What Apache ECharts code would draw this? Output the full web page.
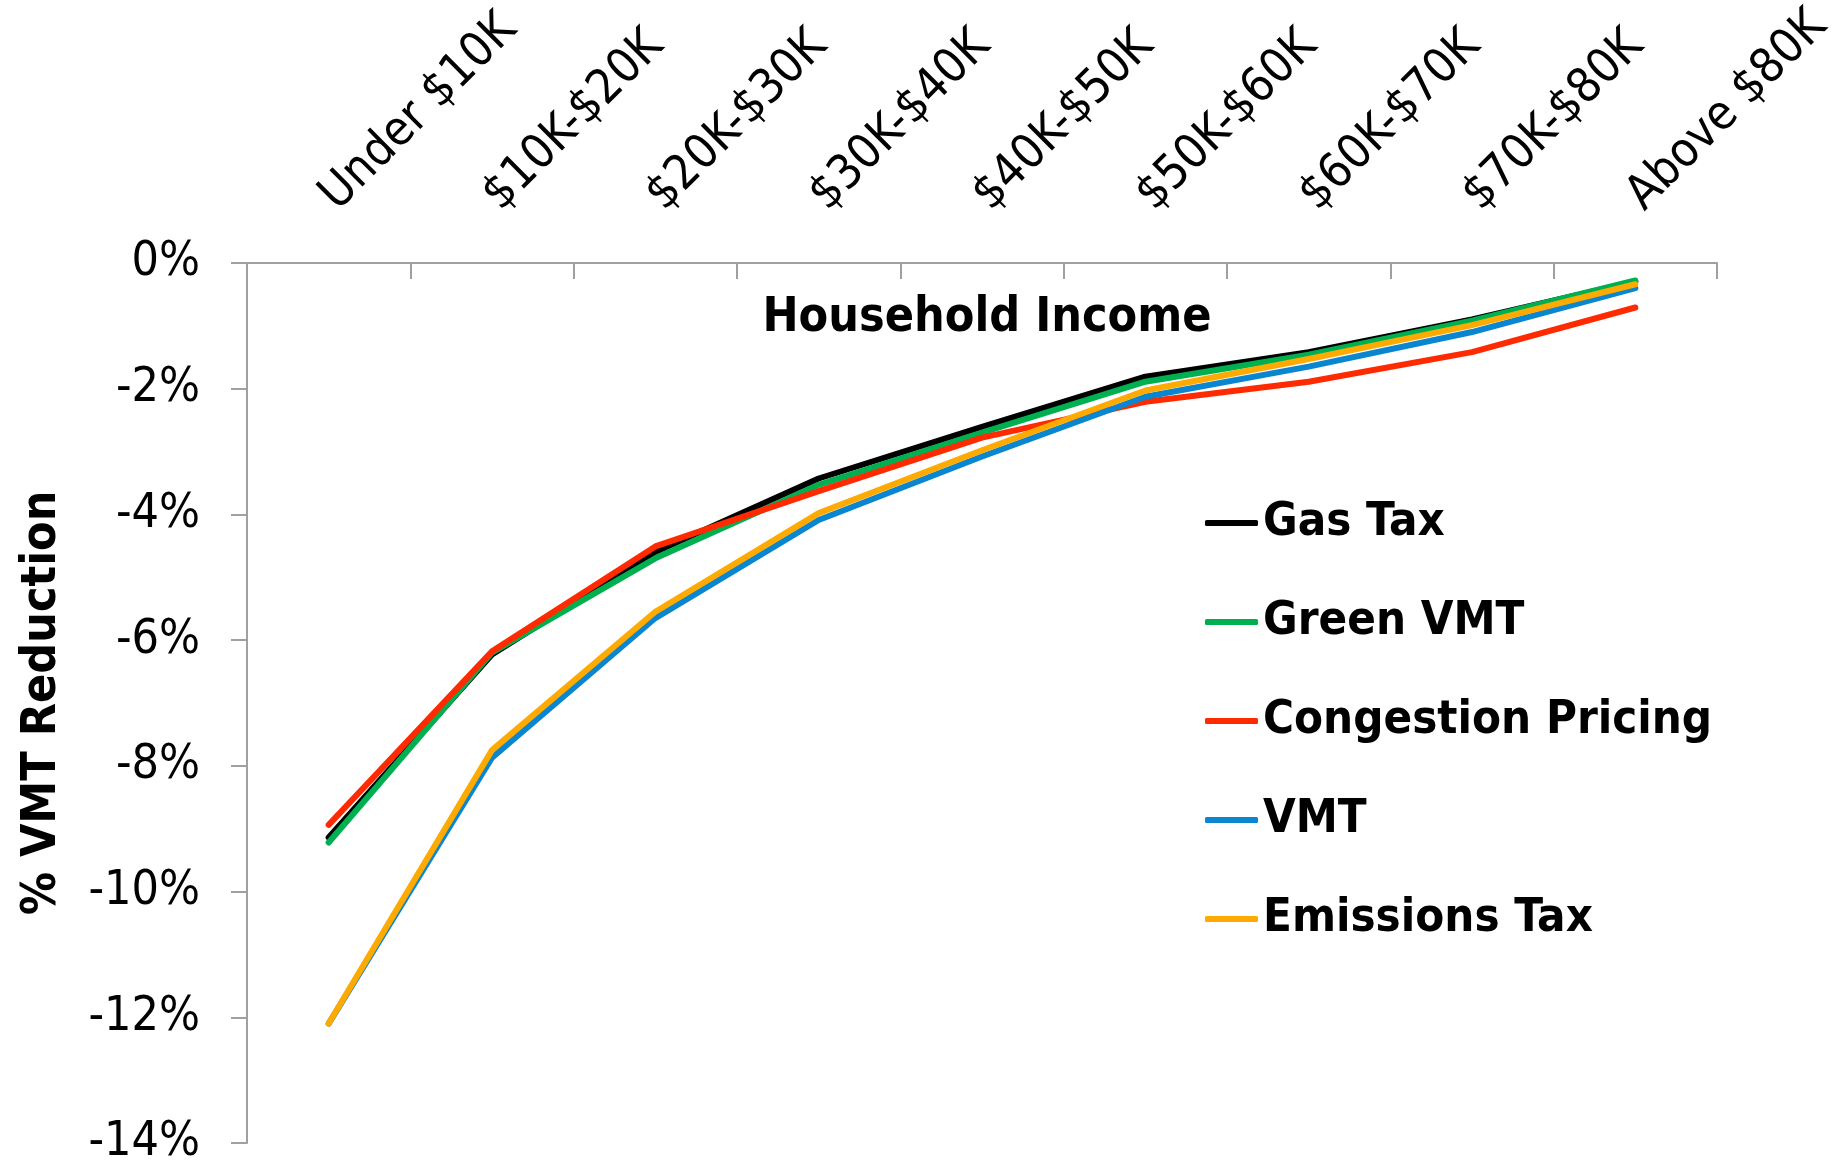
<!DOCTYPE html>
<html>
<head>
<meta charset="utf-8">
<title>% VMT Reduction by Household Income</title>
<script src="https://cdn.jsdelivr.net/npm/echarts@6/dist/echarts.min.js"></script>
<style>
  html, body { margin: 0; padding: 0; background: #ffffff; }
  #chart { width: 1843px; height: 1168px; }
</style>
</head>
<body>
<div id="chart"></div>
<script>
// Income brackets along the top axis
const incomeBrackets = ['Under $10K', '$10K-$20K', '$20K-$30K', '$30K-$40K', '$40K-$50K',
                        '$50K-$60K', '$60K-$70K', '$70K-$80K', 'Above $80K'];

// Percent reduction in vehicle miles travelled, per policy
const gasTax            = [-9.14, -6.23, -4.60, -3.43, -2.61, -1.81, -1.42, -0.90, -0.30];
const greenVmt          = [-9.22, -6.20, -4.70, -3.53, -2.70, -1.89, -1.46, -0.92, -0.28];
const congestionPricing = [-8.94, -6.18, -4.51, -3.63, -2.78, -2.21, -1.89, -1.42, -0.71];
const vmtFee            = [-12.10, -7.87, -5.65, -4.09, -3.08, -2.13, -1.65, -1.10, -0.40];
const emissionsTax      = [-12.10, -7.75, -5.55, -3.98, -2.98, -2.03, -1.53, -0.99, -0.34];

// Value axis ticks
const yTicks = { min: -14, max: 0, step: 2 };

const FONT = "'DejaVu Sans Condensed', 'DejaVu Sans', sans-serif";
const AXIS_GREY = '#a0a0a0';

const seriesDefs = [
  { name: 'Gas Tax',            data: gasTax,            color: '#000000' },
  { name: 'Green VMT',          data: greenVmt,          color: '#00b050' },
  { name: 'Congestion Pricing', data: congestionPricing, color: '#ff2a00' },
  { name: 'VMT',                data: vmtFee,            color: '#0a86d0' },
  { name: 'Emissions Tax',      data: emissionsTax,      color: '#ffaa00' }
];

const chart = echarts.init(document.getElementById('chart'), null, { renderer: 'canvas' });

chart.setOption({
  animation: false,
  backgroundColor: '#ffffff',
  title: {
    text: 'Household Income',
    left: 982,
    top: 290,
    textAlign: 'center',
    textStyle: { fontFamily: FONT, fontSize: 48, fontWeight: 'bold', color: '#000000' }
  },
  grid: { left: 247, right: 126, top: 261, bottom: 25, containLabel: false },
  legend: {
    orient: 'vertical',
    left: 1205,
    top: 498,
    padding: 0,
    icon: 'roundRect',
    itemWidth: 53,
    itemHeight: 6,
    itemGap: 49,
    textStyle: { fontFamily: FONT, fontSize: 47, fontWeight: 'bold', color: '#000000', lineHeight: 50 },
    data: seriesDefs.map(s => s.name)
  },
  xAxis: {
    type: 'category',
    position: 'top',
    data: incomeBrackets,
    boundaryGap: true,
    axisLine: { show: true, lineStyle: { color: AXIS_GREY, width: 2 } },
    axisTick: { show: true, inside: true, length: 16, lineStyle: { color: AXIS_GREY, width: 2 } },
    axisLabel: { rotate: 45, margin: 60, interval: 0, fontFamily: FONT, fontSize: 48, color: '#000000' },
    splitLine: { show: false }
  },
  yAxis: {
    type: 'value',
    min: yTicks.min,
    max: yTicks.max,
    interval: yTicks.step,
    name: '% VMT Reduction',
    nameLocation: 'middle',
    nameRotate: 90,
    nameGap: 180,
    nameTextStyle: { fontFamily: FONT, fontSize: 48, fontWeight: 'bold', color: '#000000' },
    axisLine: { show: true, lineStyle: { color: AXIS_GREY, width: 2 } },
    axisTick: { show: true, inside: false, length: 16, lineStyle: { color: AXIS_GREY, width: 2 } },
    axisLabel: { margin: 47, fontFamily: FONT, fontSize: 48, color: '#000000', formatter: '{value}%' },
    splitLine: { show: false }
  },
  series: seriesDefs.map(s => ({
    name: s.name,
    type: 'line',
    data: s.data,
    symbol: 'none',
    smooth: false,
    color: s.color,
    lineStyle: { color: s.color, width: 6, cap: 'round', join: 'round' },
    itemStyle: { color: s.color }
  }))
});
</script>
</body>
</html>
